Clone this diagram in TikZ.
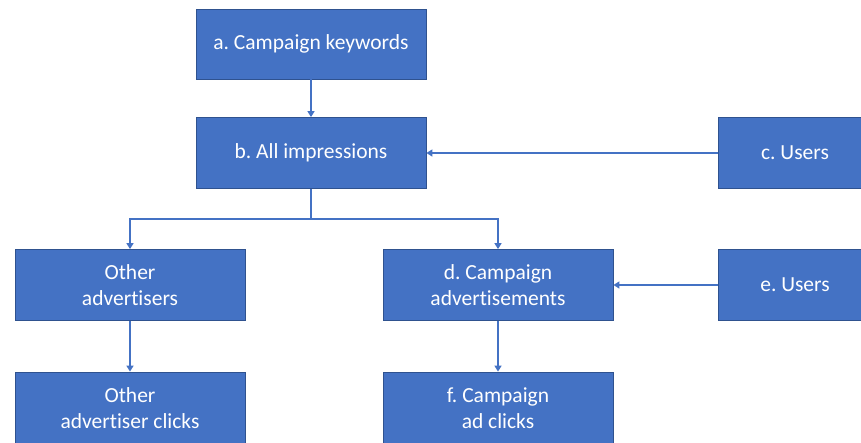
\documentclass[tikz,border=0pt]{standalone}
\usepackage{fontspec}
\setmainfont[Ligatures=NoCommon]{Carlito}
\frenchspacing
\usetikzlibrary{arrows.meta}
\definecolor{boxfill}{HTML}{4472C4}
\definecolor{boxline}{HTML}{2F528F}
\definecolor{arrowc}{HTML}{4472C4}
\begin{document}
\begin{tikzpicture}[x=1pt,y=-1pt,
  box/.style={draw=boxline, line width=0.8pt, fill=boxfill, text=white,
    minimum width=230pt, minimum height=71pt, inner sep=0pt,
    align=center, font=\fontsize{21.5}{26}\selectfont},
  sidebox/.style={box, minimum width=154pt},
  conn/.style={draw=arrowc, line width=1.8pt, -{Triangle[length=6pt,width=7pt]}}]
\useasboundingbox (0,0) rectangle (861,442);
\node[box, minimum height=70pt] (a) at (311,44) {a. Campaign keywords};
\node[box] (b) at (311,153) {b. All impressions};
\node[sidebox] (c) at (795,153) {c. Users};
\node[box] (o1) at (130,285) {Other\\advertisers};
\node[box] (d) at (498,285) {d. Campaign\\advertisements};
\node[sidebox] (e) at (795,285) {e. Users};
\node[box, minimum height=72pt] (o2) at (130,408) {Other\\advertiser clicks};
\node[box, minimum height=72pt] (f) at (498,408) {f. Campaign\\ad clicks};
\coordinate (fork) at (311,219);
\draw[conn] (a.south) -- (b.north);
\draw[conn] (c.west) -- (b.east);
\draw[conn] (b.south) -- (fork) -| (o1.north);
\draw[conn] (fork) -| (d.north);
\draw[conn] (e.west) -- (d.east);
\draw[conn] (o1.south) -- (o2.north);
\draw[conn] (d.south) -- (f.north);
\end{tikzpicture}
\end{document}
